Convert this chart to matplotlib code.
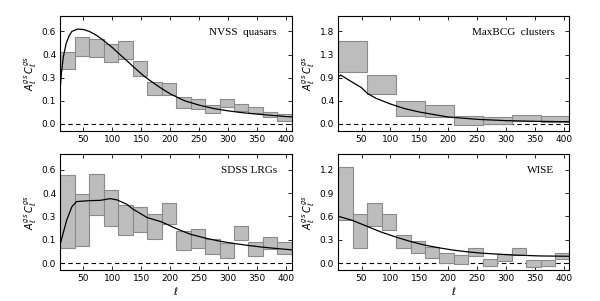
import numpy as np
import matplotlib
matplotlib.use("Agg")
import matplotlib.pyplot as plt
from matplotlib.patches import Rectangle

# ---------------- data ----------------
nvss_edges = [10, 35, 60, 85, 110, 135, 160, 185, 210, 235, 260, 285, 310, 335, 360, 385, 410]
nvss_lo = [0.354, 0.440, 0.432, 0.401, 0.423, 0.309, 0.186, 0.190, 0.106, 0.099, 0.069, 0.108, 0.082, 0.073, 0.043, 0.022]
nvss_hi = [0.464, 0.561, 0.548, 0.516, 0.535, 0.406, 0.270, 0.263, 0.173, 0.164, 0.125, 0.160, 0.127, 0.112, 0.080, 0.063]
nvss_ell = [10, 12, 15, 20, 25, 30, 40, 50, 60, 70, 80, 90, 100, 110, 125, 135, 150, 160, 175, 185, 200, 225, 250, 275, 300, 325, 350, 375, 400, 410]
nvss_th = [0.24, 0.33, 0.43, 0.52, 0.57, 0.60, 0.615, 0.612, 0.60, 0.58, 0.555, 0.525, 0.495, 0.46, 0.41, 0.375, 0.325, 0.295, 0.255, 0.23, 0.195, 0.15, 0.122, 0.10, 0.085, 0.073, 0.064, 0.056, 0.048, 0.046]

maxbcg_edges = [10, 60, 110, 160, 210, 260, 310, 360, 410]
maxbcg_lo = [1.010, 0.576, 0.162, 0.142, -0.026, -0.006, 0.052, 0.039]
maxbcg_hi = [1.606, 0.946, 0.447, 0.363, 0.149, 0.130, 0.175, 0.149]
maxbcg_ell = [10, 14, 25, 50, 60, 75, 100, 125, 150, 200, 250, 300, 350, 400, 410]
maxbcg_th = [0.913, 0.952, 0.874, 0.706, 0.596, 0.50, 0.389, 0.298, 0.233, 0.136, 0.091, 0.065, 0.052, 0.045, 0.044]

sdss_edges = [10, 35, 60, 85, 110, 135, 160, 185, 210, 235, 260, 285, 310, 335, 360, 385, 410]
sdss_lo = [0.098, 0.111, 0.307, 0.239, 0.183, 0.202, 0.157, 0.250, 0.085, 0.098, 0.059, 0.033, 0.150, 0.046, 0.089, 0.059]
sdss_hi = [0.570, 0.446, 0.576, 0.470, 0.372, 0.359, 0.313, 0.387, 0.204, 0.222, 0.157, 0.128, 0.241, 0.137, 0.170, 0.137]
sdss_ell = [10, 21, 30, 38, 60, 79, 96, 108, 125, 136, 160, 185, 210, 235, 260, 285, 310, 335, 360, 385, 410]
sdss_th = [0.124, 0.276, 0.363, 0.396, 0.402, 0.404, 0.415, 0.407, 0.378, 0.346, 0.293, 0.265, 0.222, 0.185, 0.161, 0.141, 0.126, 0.113, 0.102, 0.093, 0.085]

wise_edges = [10, 35, 60, 85, 110, 135, 160, 185, 210, 235, 260, 285, 310, 335, 360, 385, 410]
wise_lo = [0.559, 0.195, 0.477, 0.429, 0.195, 0.130, 0.065, 0.0, -0.013, 0.087, -0.043, 0.030, 0.104, -0.052, -0.043, 0.048]
wise_hi = [1.235, 0.637, 0.771, 0.637, 0.364, 0.290, 0.204, 0.130, 0.104, 0.191, 0.056, 0.113, 0.191, 0.043, 0.043, 0.126]
wise_ell = [10, 34, 60, 84, 110, 135, 160, 185, 210, 235, 260, 310, 360, 410]
wise_th = [0.602, 0.550, 0.472, 0.399, 0.334, 0.277, 0.230, 0.195, 0.165, 0.143, 0.126, 0.104, 0.091, 0.087]

names = ["NVSS  quasars", "MaxBCG  clusters", "SDSS LRGs", "WISE"]
ytop = [0.6, 1.8, 0.6, 1.2]
ytick_labels = [["0.0", "0.1", "0.3", "0.4", "0.6"],
                ["0.0", "0.4", "0.9", "1.3", "1.8"],
                ["0.0", "0.1", "0.3", "0.4", "0.6"],
                ["0.0", "0.3", "0.6", "0.9", "1.2"]]
xticks = [50, 100, 150, 200, 250, 300, 350, 400]

panels = [
    (nvss_edges, nvss_lo, nvss_hi, nvss_ell, nvss_th),
    (maxbcg_edges, maxbcg_lo, maxbcg_hi, maxbcg_ell, maxbcg_th),
    (sdss_edges, sdss_lo, sdss_hi, sdss_ell, sdss_th),
    (wise_edges, wise_lo, wise_hi, wise_ell, wise_th),
]

# ---------------- figure ----------------
fig = plt.figure(figsize=(6.0, 3.01), dpi=100)
positions = [
    [0.1005, 0.565, 0.386, 0.382],
    [0.564, 0.565, 0.385, 0.382],
    [0.1005, 0.103, 0.386, 0.384],
    [0.564, 0.103, 0.385, 0.384],
]

for i, (pos, (edges, lo, hi, ell, th)) in enumerate(zip(positions, panels)):
    ax = fig.add_axes(pos)
    for k in range(len(lo)):
        ax.add_patch(Rectangle((edges[k], lo[k]), edges[k + 1] - edges[k], hi[k] - lo[k],
                               facecolor="#bdbdbd", edgecolor="#8a8a8a", linewidth=0.8, zorder=2))
    ax.plot(ell, th, color="black", lw=0.9, zorder=3)
    ax.axhline(0.0, color="black", lw=0.8, ls=(0, (4, 3)), zorder=1)
    ax.set_xlim(10, 410)
    ym = ytop[i]
    ax.set_ylim(-0.075 * ym, 1.1667 * ym)
    ax.set_yticks(np.linspace(0, ym, 5))
    ax.set_yticklabels(ytick_labels[i])
    ax.set_xticks(xticks)
    ax.set_xticklabels([str(t) for t in xticks])
    ax.tick_params(direction="in", top=True, right=True, length=3, width=0.6,
                   labelsize=6.5, pad=3)
    for s in ax.spines.values():
        s.set_linewidth(0.8)
    ax.text(0.935, 0.86, names[i], transform=ax.transAxes, ha="right", va="center",
            fontsize=8, family="Liberation Serif")
    ax.set_ylabel(r"$A_\ell^{gs}\,C_\ell^{gs}$", fontsize=7, labelpad=2)
    if i >= 2:
        ax.set_xlabel(r"$\ell$", fontsize=7, labelpad=1)

fig.savefig("out.png", dpi=100)
